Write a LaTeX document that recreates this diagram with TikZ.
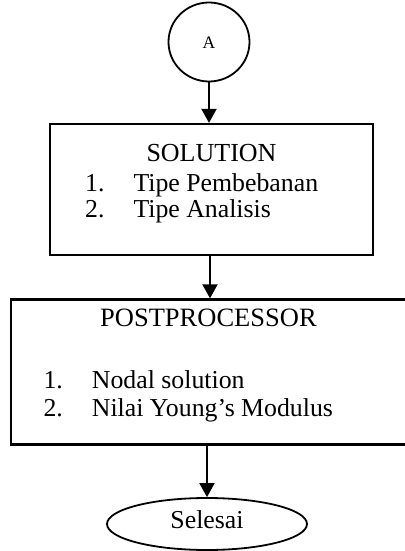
\documentclass[tikz,border=0pt]{standalone}
\usepackage{fontspec}
\setmainfont{Liberation Serif}
\usetikzlibrary{arrows.meta,shapes.geometric}
\begin{document}
\begin{tikzpicture}[x=1pt,y=-1pt,
  txt/.style={inner sep=0pt,anchor=base west,font=\fontsize{25.8}{27}\selectfont},
  boxst/.style={draw,line width=2.3pt,inner sep=0pt},
  ovalst/.style={draw,ellipse,line width=1.8pt,inner sep=0pt},
  arr/.style={line width=2pt,-{Triangle[width=15pt,length=14pt]}}]
\useasboundingbox (0,0) rectangle (404,551);
% start connector
\node[ovalst,minimum width=81pt,minimum height=79pt] (A) at (209,42) {};
\node[inner sep=0pt,anchor=base,font=\fontsize{17.5}{18}\selectfont] (Atxt) at (209,48.5) {A};
% solution box
\node[boxst,minimum width=323pt,minimum height=131pt] (sol) at (211.5,189.5) {};
\node[inner sep=0pt,anchor=base,font=\fontsize{26}{27}\selectfont] (soltitle) at (211.5,161.7) {SOLUTION};
\node[txt] (s1n) at (85,191) {1.};
\node[txt] (s1) at (133.3,191) {Tipe Pembebanan};
\node[txt] (s2n) at (85,217.3) {2.};
\node[txt] (s2) at (133.3,217.3) {Tipe Analisis};
% postprocessor box
\node[boxst,minimum width=400pt,minimum height=145pt,anchor=north west] (post) at (10,298.3) {};
\node[inner sep=0pt,anchor=base west,font=\fontsize{26.5}{27}\selectfont] (posttitle) at (100,326) {POSTPROCESSOR};
\node[txt] (p1n) at (43.3,388.3) {1.};
\node[txt] (p1) at (91.7,388.3) {Nodal solution};
\node[txt] (p2n) at (43.3,416.7) {2.};
\node[txt] (p2) at (91.7,416.7) {Nilai Young’s Modulus};
% end
\node[ovalst,minimum width=200pt,minimum height=52pt] (fin) at (207,524) {};
\node[inner sep=0pt,anchor=base,font=\fontsize{25.8}{27}\selectfont] (fintxt) at (207,528) {Selesai};
% connectors
\draw[arr] (A.south) -- (A.south |- sol.north);
\draw[arr] (210,255) coordinate (c1) -- (c1 |- post.north);
\draw[arr] (fin.north |- post.south) -- (fin.north);
\end{tikzpicture}
\end{document}
